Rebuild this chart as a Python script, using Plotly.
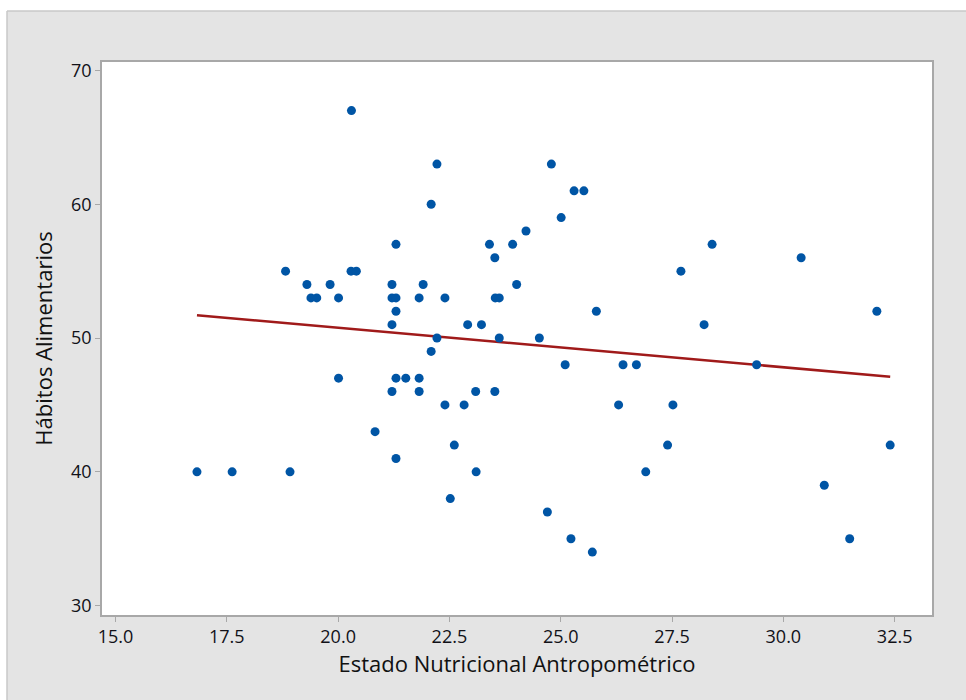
import numpy as np
import plotly.graph_objects as go

# Data: (Estado Nutricional Antropométrico, Hábitos Alimentarios)
estado_nutricional = [
    20.30,
    22.22, 24.79,
    25.30, 25.52,
    22.09,
    25.01,
    24.22,
    21.30, 23.40, 23.92, 28.40,
    23.52, 30.40,
    18.82, 20.29, 20.41, 27.70,
    19.30, 19.82, 21.21, 21.91, 24.01,
    19.39, 19.52, 20.01, 21.21, 21.30, 21.82, 22.40, 23.53, 23.62,
    21.30, 25.80, 32.10,
    21.21, 22.91, 23.22, 28.22,
    22.22, 23.62, 24.52,
    22.09,
    25.10, 26.40, 26.70, 29.40,
    20.01, 21.30, 21.52, 21.82,
    21.21, 21.82, 23.09, 23.52,
    22.40, 22.83, 26.30, 27.52,
    20.83,
    22.61, 27.40, 32.40,
    21.30,
    16.83, 17.62, 18.92, 23.10, 26.91,
    30.92,
    22.52,
    24.70,
    25.23, 31.49,
    25.71,
]
habitos_alimentarios = [
    67,
    63, 63,
    61, 61,
    60,
    59,
    58,
    57, 57, 57, 57,
    56, 56,
    55, 55, 55, 55,
    54, 54, 54, 54, 54,
    53, 53, 53, 53, 53, 53, 53, 53, 53,
    52, 52, 52,
    51, 51, 51, 51,
    50, 50, 50,
    49,
    48, 48, 48, 48,
    47, 47, 47, 47,
    46, 46, 46, 46,
    45, 45, 45, 45,
    43,
    42, 42, 42,
    41,
    40, 40, 40, 40, 40,
    39,
    38,
    37,
    35, 35,
    34,
]
x_ticks = [15.0, 17.5, 20.0, 22.5, 25.0, 27.5, 30.0, 32.5]
y_ticks = [30, 40, 50, 60, 70]

x = np.array(estado_nutricional)
y = np.array(habitos_alimentarios, dtype=float)
slope, intercept = np.polyfit(x, y, 1)
fit_x = np.array([x.min(), x.max()])
fit_y = slope * fit_x + intercept

W, H = 966, 700
ML, MR, MT, MB = 102, 34, 62, 85
PW, PH = W - ML - MR, H - MT - MB


def px(p):
    return (p - ML) / PW


def py(p):
    return (H - MB - p) / PH


fig = go.Figure()
fig.add_trace(go.Scatter(
    x=fit_x, y=fit_y, mode="lines",
    line=dict(color="#a01a1a", width=2.5),
    hoverinfo="skip", showlegend=False,
))
fig.add_trace(go.Scatter(
    x=estado_nutricional, y=habitos_alimentarios, mode="markers",
    marker=dict(color="#0055a5", size=9, line=dict(width=0)),
    showlegend=False,
))

axis_font = dict(family="Open Sans", size=18, color="#111118")
title_font = dict(family="Open Sans", size=22, color="#111111")

fig.update_layout(
    width=W, height=H,
    margin=dict(l=ML, r=MR, t=MT, b=MB, pad=0),
    paper_bgcolor="#e4e4e4",
    plot_bgcolor="#ffffff",
    xaxis=dict(
        range=[14.697, 33.339], tickvals=x_ticks,
        ticktext=[f"{v:.1f}" for v in x_ticks],
        showgrid=False, zeroline=False,
        showline=True, mirror=True, linecolor="#a8a8a8", linewidth=1.5,
        ticks="outside", ticklen=5, tickcolor="#a8a8a8", tickwidth=1,
        tickfont=axis_font,
        title=dict(text="Estado Nutricional Antropométrico", font=title_font, standoff=8),
    ),
    yaxis=dict(
        range=[29.30, 70.63], tickvals=y_ticks,
        showgrid=False, zeroline=False,
        showline=True, mirror=True, linecolor="#a8a8a8", linewidth=1.5,
        ticks="outside", ticklen=5, tickcolor="#a8a8a8", tickwidth=1,
        tickfont=axis_font,
        title=dict(text="Hábitos Alimentarios", font=title_font, standoff=12),
    ),
    shapes=[
        # white outer strips (top and left) outside the grey panel
        dict(type="rect", xref="paper", yref="paper",
             x0=px(0), x1=px(W), y0=py(0), y1=py(11),
             fillcolor="#ffffff", line=dict(width=0), layer="above"),
        dict(type="rect", xref="paper", yref="paper",
             x0=px(0), x1=px(7), y0=py(0), y1=py(H),
             fillcolor="#ffffff", line=dict(width=0), layer="above"),
        # panel border
        dict(type="line", xref="paper", yref="paper",
             x0=px(7), x1=px(W), y0=py(11), y1=py(11),
             line=dict(color="#c8c8c8", width=1.5), layer="above"),
        dict(type="line", xref="paper", yref="paper",
             x0=px(7), x1=px(7), y0=py(11), y1=py(H),
             line=dict(color="#c8c8c8", width=1.5), layer="above"),
    ],
)

fig.write_html("out.html")
